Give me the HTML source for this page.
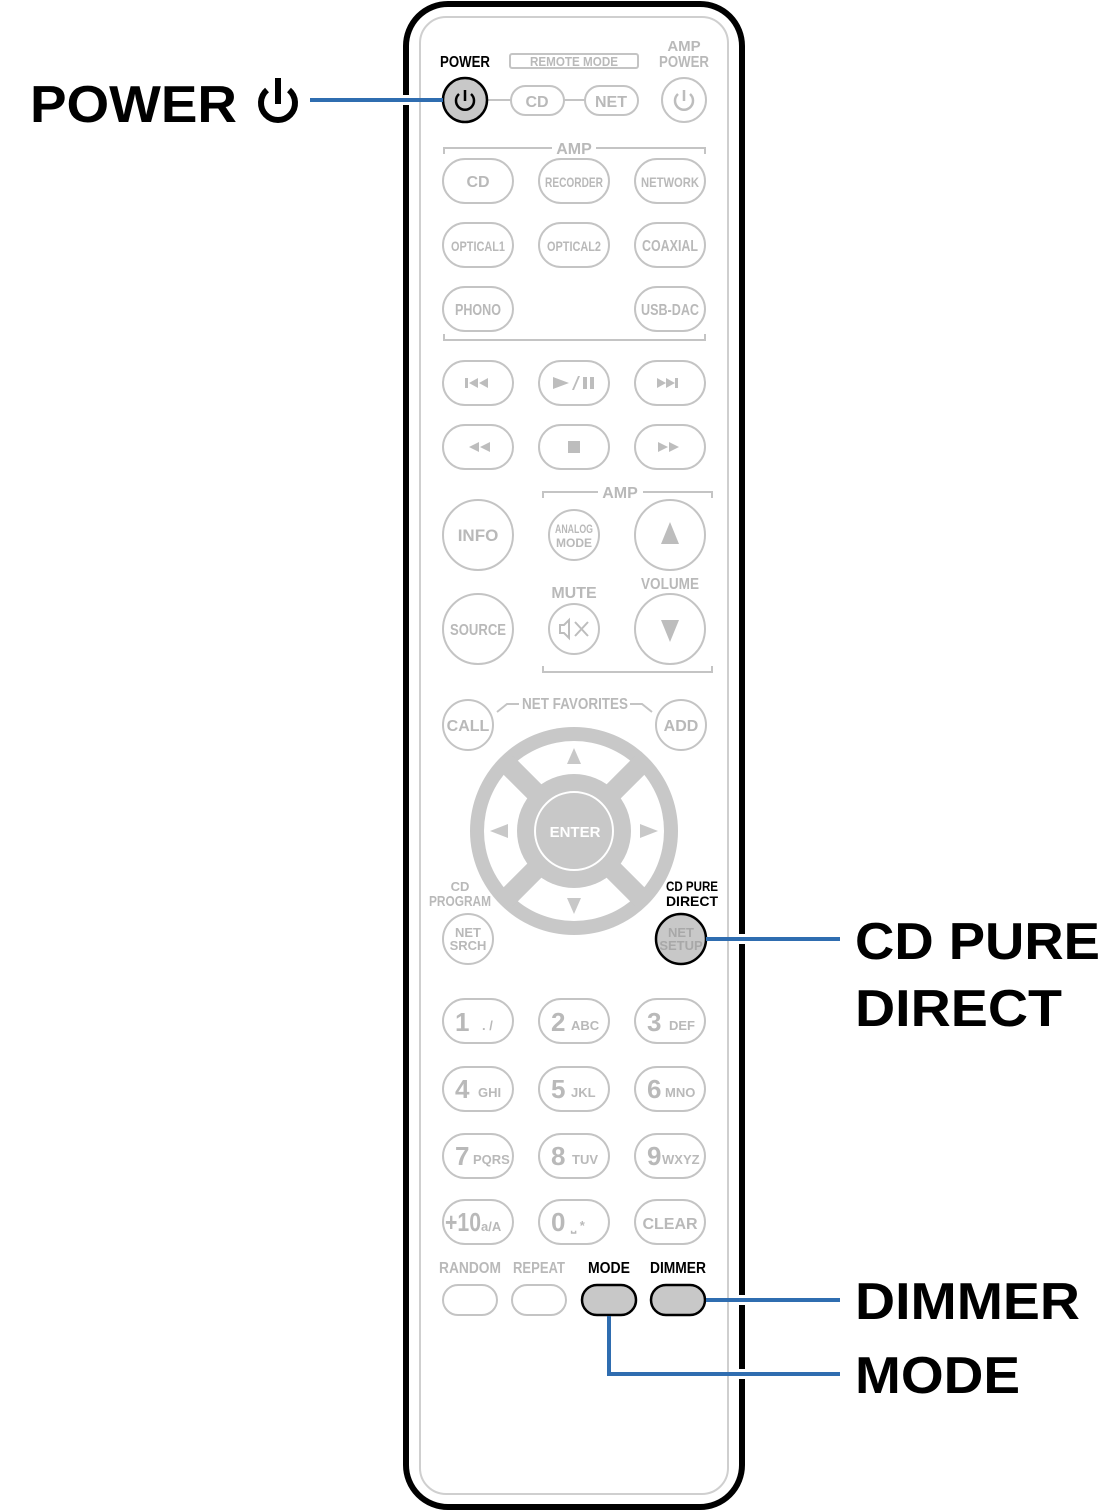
<!DOCTYPE html>
<html><head><meta charset="utf-8"><style>
html,body{margin:0;padding:0;background:#fff}
svg{display:block}
text{font-family:"Liberation Sans Narrow","Liberation Sans",sans-serif;font-weight:bold}
.g{fill:#b9b9b9}
.b{fill:none;stroke:#c4c4c4;stroke-width:2}
.L{font-family:"Liberation Sans",sans-serif;font-weight:bold;fill:#000}
</style></head><body>
<svg width="1105" height="1512" viewBox="0 0 1105 1512" xmlns="http://www.w3.org/2000/svg">
<!-- body -->
<rect x="406" y="4" width="336" height="1503" rx="42" fill="#fff" stroke="#000" stroke-width="6"/>
<rect x="420" y="17" width="308" height="1477" rx="26" fill="none" stroke="#cfcfcf" stroke-width="2"/>

<!-- top row -->
<text x="465" y="67" font-size="16" text-anchor="middle" fill="#000" textLength="50" lengthAdjust="spacingAndGlyphs">POWER</text>
<rect x="510" y="54" width="128" height="14" rx="2" class="b"/>
<text x="574" y="66" font-size="13" text-anchor="middle" class="g" textLength="88" lengthAdjust="spacingAndGlyphs">REMOTE MODE</text>
<text x="684" y="51" font-size="15" text-anchor="middle" class="g">AMP</text>
<text x="684" y="67" font-size="16" text-anchor="middle" class="g" textLength="50" lengthAdjust="spacingAndGlyphs">POWER</text>
<line x1="487" y1="100" x2="512" y2="100" stroke="#c4c4c4" stroke-width="2"/>
<line x1="563" y1="100" x2="585" y2="100" stroke="#c4c4c4" stroke-width="2"/>
<rect x="511" y="86" width="53" height="29" rx="14.5" class="b"/>
<text x="537" y="107" font-size="16" text-anchor="middle" class="g">CD</text>
<rect x="585" y="86" width="53" height="29" rx="14.5" class="b"/>
<text x="611" y="107" font-size="16" text-anchor="middle" class="g">NET</text>
<circle cx="684" cy="100" r="22" class="b"/>
<g fill="none" stroke="#bdbdbd" stroke-width="2.5"><path d="M678 94 a9 9 0 1 0 12 0"/><line x1="684" y1="90" x2="684" y2="101"/></g>
<circle cx="465" cy="100" r="22" fill="#c8c8c8" stroke="#000" stroke-width="2.5"/>
<g fill="none" stroke="#000" stroke-width="2.5"><path d="M459 94 a9 9 0 1 0 12 0"/><line x1="465" y1="90" x2="465" y2="101"/></g>

<!-- AMP bracket -->
<path d="M444 154 v-6 h108 M596 148 h109 v6" class="b"/>
<text x="574" y="154" font-size="16" text-anchor="middle" class="g">AMP</text>
<path d="M444 334 v6 h261 v-6" class="b"/>

<g class="b">
<rect x="443" y="159" width="70" height="44" rx="22"/><rect x="539" y="159" width="70" height="44" rx="22"/><rect x="635" y="159" width="70" height="44" rx="22"/>
<rect x="443" y="223" width="70" height="44" rx="22"/><rect x="539" y="223" width="70" height="44" rx="22"/><rect x="635" y="223" width="70" height="44" rx="22"/>
<rect x="443" y="287" width="70" height="44" rx="22"/><rect x="635" y="287" width="70" height="44" rx="22"/>
<rect x="443" y="361" width="70" height="44" rx="22"/><rect x="539" y="361" width="70" height="44" rx="22"/><rect x="635" y="361" width="70" height="44" rx="22"/>
<rect x="443" y="425" width="70" height="44" rx="22"/><rect x="539" y="425" width="70" height="44" rx="22"/><rect x="635" y="425" width="70" height="44" rx="22"/>
</g>
<g font-size="16" text-anchor="middle" class="g">
<text x="478" y="187">CD</text>
<text x="574" y="187" font-size="14" textLength="58" lengthAdjust="spacingAndGlyphs">RECORDER</text>
<text x="670" y="187" font-size="14" textLength="58" lengthAdjust="spacingAndGlyphs">NETWORK</text>
<text x="478" y="251" font-size="14" textLength="54" lengthAdjust="spacingAndGlyphs">OPTICAL1</text>
<text x="574" y="251" font-size="14" textLength="54" lengthAdjust="spacingAndGlyphs">OPTICAL2</text>
<text x="670" y="251" textLength="56" lengthAdjust="spacingAndGlyphs">COAXIAL</text>
<text x="478" y="315" textLength="46" lengthAdjust="spacingAndGlyphs">PHONO</text>
<text x="670" y="315" textLength="58" lengthAdjust="spacingAndGlyphs">USB-DAC</text>
</g>
<g fill="#bdbdbd">
<rect x="465" y="378" width="3" height="10"/><path d="M478 378 l-9 5 9 5z M488 378 l-9 5 9 5z"/>
<path d="M553 377 l16 6 -16 6z"/><path d="M572 390 l6 -14 h2 l-6 14z"/><rect x="583" y="377" width="4" height="12"/><rect x="590" y="377" width="4" height="12"/>
<path d="M657 378 l9 5 -9 5z M666 378 l9 5 -9 5z"/><rect x="675" y="378" width="3" height="10"/>
<path d="M479 442 l-10 5 10 5z M490 442 l-10 5 10 5z"/>
<rect x="568" y="441" width="12" height="12"/>
<path d="M658 442 l10 5 -10 5z M669 442 l10 5 -10 5z"/>
</g>

<!-- AMP volume bracket -->
<path d="M543 498 v-6 h55 M643 492 h69 v6" class="b"/>
<text x="620" y="498" font-size="16" text-anchor="middle" class="g">AMP</text>
<path d="M543 666 v6 h169 v-6" class="b"/>
<g class="b">
<circle cx="478" cy="535" r="35"/><circle cx="574" cy="535" r="25"/><circle cx="670" cy="535" r="35"/>
<circle cx="478" cy="629" r="35"/><circle cx="574" cy="629" r="25"/><circle cx="670" cy="629" r="35"/>
</g>
<g text-anchor="middle" class="g">
<text x="478" y="541" font-size="17">INFO</text>
<text x="574" y="533" font-size="12" textLength="38" lengthAdjust="spacingAndGlyphs">ANALOG</text>
<text x="574" y="547" font-size="12">MODE</text>
<text x="670" y="589" font-size="16" textLength="58" lengthAdjust="spacingAndGlyphs">VOLUME</text>
<text x="574" y="598" font-size="16">MUTE</text>
<text x="478" y="635" font-size="16" textLength="56" lengthAdjust="spacingAndGlyphs">SOURCE</text>
</g>
<path d="M670 522 l-9 22 h18z M661 620 h18 l-9 22z" fill="#bdbdbd"/>
<g fill="none" stroke="#bdbdbd" stroke-width="2"><path d="M560 625 h4 l5 -5 v18 l-5 -5 h-4z"/><path d="M575 622 l13 14 M588 622 l-13 14"/></g>

<!-- net favorites -->
<path d="M497 712 l10 -8 h12 M630 704 h12 l10 8" class="b"/>
<text x="575" y="709" font-size="16" text-anchor="middle" class="g" textLength="106" lengthAdjust="spacingAndGlyphs">NET FAVORITES</text>
<circle cx="468" cy="725" r="25" class="b"/><text x="468" y="731" font-size="16" text-anchor="middle" class="g">CALL</text>
<circle cx="681" cy="725" r="25" class="b"/><text x="681" y="731" font-size="16" text-anchor="middle" class="g">ADD</text>

<!-- dpad -->
<circle cx="574" cy="831" r="104" fill="#c8c8c8"/>
<circle cx="574" cy="831" r="90" fill="#fff"/>
<g fill="#c8c8c8" transform="rotate(45 574 831)"><rect x="564" y="735" width="20" height="192"/><rect x="478" y="821" width="192" height="20"/></g>
<circle cx="574" cy="831" r="57" fill="#c8c8c8"/>
<circle cx="574" cy="831" r="39" fill="none" stroke="#fff" stroke-width="2"/>
<text x="575" y="837" font-size="15" text-anchor="middle" fill="#fff">ENTER</text>
<path d="M574 748 l-7 16 h14z M574 914 l-7 -16 h14z M490 831 l18 -7 v14z M658 831 l-18 -7 v14z" fill="#c8c8c8"/>

<text x="460" y="891" font-size="13" text-anchor="middle" class="g">CD</text>
<text x="460" y="906" font-size="15" text-anchor="middle" class="g" textLength="62" lengthAdjust="spacingAndGlyphs">PROGRAM</text>
<circle cx="468" cy="939" r="25" class="b"/>
<text x="468" y="937" font-size="13" text-anchor="middle" class="g">NET</text>
<text x="468" y="950" font-size="13" text-anchor="middle" class="g">SRCH</text>
<text x="692" y="891" font-size="14" text-anchor="middle" fill="#000" textLength="52" lengthAdjust="spacingAndGlyphs">CD PURE</text>
<text x="692" y="906" font-size="14" text-anchor="middle" fill="#000">DIRECT</text>
<circle cx="681" cy="939" r="25" fill="#c8c8c8" stroke="#000" stroke-width="2.5"/>
<text x="681" y="937" font-size="13" text-anchor="middle" fill="#a8a8a8">NET</text>
<text x="681" y="950" font-size="13" text-anchor="middle" fill="#a8a8a8">SETUP</text>

<!-- numpad -->
<g class="b">
<rect x="443" y="999" width="70" height="44" rx="22"/><rect x="539" y="999" width="70" height="44" rx="22"/><rect x="635" y="999" width="70" height="44" rx="22"/>
<rect x="443" y="1067" width="70" height="44" rx="22"/><rect x="539" y="1067" width="70" height="44" rx="22"/><rect x="635" y="1067" width="70" height="44" rx="22"/>
<rect x="443" y="1134" width="70" height="44" rx="22"/><rect x="539" y="1134" width="70" height="44" rx="22"/><rect x="635" y="1134" width="70" height="44" rx="22"/>
<rect x="443" y="1200" width="70" height="44" rx="22"/><rect x="539" y="1200" width="70" height="44" rx="22"/><rect x="635" y="1200" width="70" height="44" rx="22"/>
<rect x="443" y="1285" width="54" height="30" rx="15"/><rect x="512" y="1285" width="54" height="30" rx="15"/>
</g>
<g class="g" font-size="26">
<text x="455" y="1031">1</text><text x="482" y="1030" font-size="13">. /</text>
<text x="551" y="1031">2</text><text x="571" y="1030" font-size="13">ABC</text>
<text x="647" y="1031">3</text><text x="669" y="1030" font-size="13">DEF</text>
<text x="455" y="1098">4</text><text x="478" y="1097" font-size="13">GHI</text>
<text x="551" y="1098">5</text><text x="571" y="1097" font-size="13">JKL</text>
<text x="647" y="1098">6</text><text x="665" y="1097" font-size="13">MNO</text>
<text x="455" y="1165">7</text><text x="473" y="1164" font-size="13">PQRS</text>
<text x="551" y="1165">8</text><text x="572" y="1164" font-size="13">TUV</text>
<text x="647" y="1165">9</text><text x="662" y="1164" font-size="13">WXYZ</text>
<text x="445" y="1231" textLength="36" lengthAdjust="spacingAndGlyphs">+10</text><text x="481" y="1231" font-size="13">a/A</text>
<text x="551" y="1231">0</text><text x="571" y="1230" font-size="13">⎵ *</text>
<text x="670" y="1229" font-size="16" text-anchor="middle">CLEAR</text>
<text x="470" y="1273" font-size="16" text-anchor="middle" textLength="62" lengthAdjust="spacingAndGlyphs">RANDOM</text>
<text x="539" y="1273" font-size="16" text-anchor="middle" textLength="52" lengthAdjust="spacingAndGlyphs">REPEAT</text>
</g>
<text x="609" y="1273" font-size="16" text-anchor="middle" fill="#000" textLength="42" lengthAdjust="spacingAndGlyphs">MODE</text>
<text x="678" y="1273" font-size="16" text-anchor="middle" fill="#000" textLength="56" lengthAdjust="spacingAndGlyphs">DIMMER</text>
<rect x="582" y="1285" width="54" height="30" rx="15" fill="#c8c8c8" stroke="#000" stroke-width="2.5"/>
<rect x="651" y="1285" width="54" height="30" rx="15" fill="#c8c8c8" stroke="#000" stroke-width="2.5"/>

<!-- leader lines -->
<g stroke="#fff" stroke-width="10" fill="none">
<line x1="400" y1="100" x2="412" y2="100"/><line x1="736" y1="939" x2="748" y2="939"/>
<line x1="736" y1="1300" x2="748" y2="1300"/><line x1="736" y1="1374" x2="748" y2="1374"/>
</g>
<g stroke="#2f6db0" stroke-width="4" fill="none">
<line x1="310" y1="100" x2="443" y2="100"/>
<line x1="706" y1="939" x2="840" y2="939"/>
<line x1="706" y1="1300" x2="840" y2="1300"/>
<path d="M609 1316 V1374 H840"/>
</g>

<!-- labels -->
<text x="30" y="122" font-size="52" class="L" textLength="207" lengthAdjust="spacingAndGlyphs">POWER</text>
<g fill="none" stroke="#000" stroke-width="6"><path d="M267 90 a17 17 0 1 0 22 0"/><line x1="278" y1="78" x2="278" y2="104"/></g>
<text x="855" y="959" font-size="52" class="L" textLength="245" lengthAdjust="spacingAndGlyphs">CD PURE</text>
<text x="855" y="1026" font-size="52" class="L" textLength="207" lengthAdjust="spacingAndGlyphs">DIRECT</text>
<text x="855" y="1319" font-size="52" class="L" textLength="225" lengthAdjust="spacingAndGlyphs">DIMMER</text>
<text x="855" y="1393" font-size="52" class="L" textLength="165" lengthAdjust="spacingAndGlyphs">MODE</text>
</svg>
</body></html>
